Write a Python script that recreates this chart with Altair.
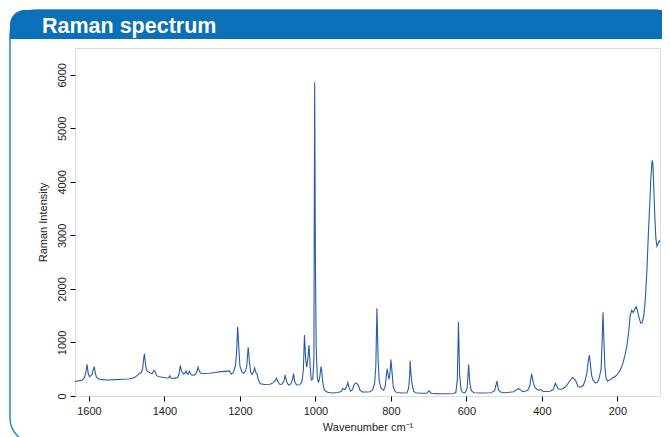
import altair as alt
import pandas as pd

# ---------------- data ----------------
wavenumber = [
    1637, 1628, 1618, 1612, 1608, 1605, 1602, 1599, 1596, 1592, 1589, 1586, 1583, 1580, 1575,
    1565, 1550, 1530, 1510, 1495, 1485, 1478, 1470, 1466, 1462, 1458, 1455, 1453, 1451, 1448,
    1444, 1438, 1432, 1428, 1425, 1421, 1414, 1405, 1395, 1389, 1386, 1383, 1375, 1365, 1361,
    1358, 1355, 1350, 1346, 1343, 1340, 1337, 1334, 1331, 1327, 1320, 1315, 1311, 1308, 1304,
    1295, 1280, 1265, 1250, 1235, 1228, 1223, 1218, 1212, 1209, 1206, 1203, 1200, 1195, 1190,
    1185, 1182, 1180, 1178, 1175, 1172, 1168, 1164, 1161, 1158, 1155, 1151, 1146, 1135, 1120,
    1114, 1110, 1106, 1103, 1099, 1094, 1088, 1083, 1080, 1076, 1071, 1065, 1061, 1058, 1055,
    1050, 1042, 1036, 1032, 1029, 1026, 1023, 1020, 1017, 1014, 1011, 1007, 1004, 1002, 1000,
    998, 995, 992, 989, 986, 985, 983, 980, 976, 968, 955, 940, 932, 927, 922,
    918, 914, 911, 907, 902, 898, 894, 890, 886, 882, 876, 865, 855, 848, 843,
    840, 837, 834, 831, 826, 819, 815, 812, 810, 807, 805, 802, 800, 797, 794,
    790, 785, 770, 757, 753, 750, 749, 747, 744, 740, 735, 720, 705, 699, 693,
    675, 650, 635, 628, 624, 621, 618, 614, 609, 603, 598, 594, 591, 587, 580,
    560, 535, 525, 519, 515, 508, 500, 485, 475, 468, 462, 456, 451, 444, 437,
    432, 427, 423, 419, 412, 406, 402, 398, 390, 378, 370, 366, 364, 361, 357,
    350, 343, 334, 326, 319, 314, 310, 304, 297, 290, 285, 281, 277, 274, 271,
    268, 264, 258, 253, 249, 243, 240, 238, 236, 233, 230, 226, 220, 212, 205,
    198, 192, 186, 180, 175, 170, 166, 162, 158, 154, 150, 147, 142, 138, 134,
    130, 126, 122, 118, 114, 111, 108, 106, 104, 101, 98, 95, 92, 89, 87,
]
intensity = [
    272, 282, 300, 340, 450, 590, 420, 365, 375, 400, 480, 550, 420, 350, 318,
    305, 300, 305, 312, 318, 330, 350, 400, 425, 430, 500, 700, 790, 640, 490,
    455, 430, 420, 480, 460, 380, 360, 350, 335, 340, 375, 335, 330, 345, 420,
    570, 470, 410, 425, 465, 420, 410, 460, 420, 390, 395, 430, 540, 470, 425,
    420, 425, 440, 455, 465, 470, 410, 430, 560, 800, 1295, 900, 560, 450, 420,
    470, 560, 750, 910, 650, 460, 400, 450, 525, 440, 420, 300, 230, 215, 220,
    240, 265, 290, 330, 260, 215, 225, 290, 390, 260, 205, 225, 300, 420, 270,
    205, 210, 260, 480, 1140, 700, 540, 700, 950, 560, 300, 320, 700, 5860, 2500,
    900, 350, 250, 330, 500, 550, 450, 220, 110, 70, 57, 65, 85, 140, 120,
    160, 250, 160, 90, 120, 200, 245, 230, 200, 110, 75, 75, 80, 120, 250,
    550, 1640, 700, 280, 140, 110, 180, 380, 510, 380, 310, 450, 680, 450, 180,
    100, 65, 55, 62, 150, 400, 660, 420, 230, 90, 60, 50, 50, 95, 52,
    45, 42, 48, 65, 300, 1380, 400, 110, 60, 60, 150, 590, 250, 100, 60,
    55, 60, 100, 280, 110, 70, 62, 70, 80, 110, 140, 110, 80, 90, 110,
    190, 415, 260, 165, 115, 110, 120, 90, 85, 90, 120, 200, 235, 190, 135,
    125, 140, 200, 280, 345, 320, 280, 175, 165, 200, 300, 420, 650, 765, 560,
    380, 290, 245, 250, 310, 500, 1100, 1565, 1100, 550, 330, 280, 300, 340, 370,
    420, 490, 590, 760, 920, 1200, 1500, 1600, 1560, 1620, 1667, 1600, 1450, 1360, 1370,
    1500, 1800, 2300, 3000, 3600, 4100, 4400, 4350, 4000, 3400, 2950, 2800, 2850, 2900, 2880,
]
x_ticks = [200, 400, 600, 800, 1000, 1200, 1400, 1600]
y_ticks = [0, 1000, 2000, 3000, 4000, 5000, 6000]
x_domain = [87, 1637]
y_domain = [0, 6500]
header_text = "Raman spectrum"
x_title = "Wavenumber cm\u207b\u00b9"
y_title = "Raman Intensity"

df = pd.DataFrame({"w": wavenumber, "i": intensity})
one = pd.DataFrame({"k": [0]})

W, H = 585, 348
BAND = "#0a70b8"
FRAME = "#2a86cc"
LINE = "#2a5ba8"
FONT = "Liberation Sans"

frame = alt.Chart(one).mark_rect(
    filled=False, color=FRAME, strokeWidth=1.5, cornerRadius=25
).encode(
    x=alt.value(-65), x2=alt.value(605), y=alt.value(-38), y2=alt.value(395)
)

band = alt.Chart(one).mark_rect(
    color=BAND, cornerRadiusTopLeft=25, cornerRadiusTopRight=25
).encode(
    x=alt.value(-65), x2=alt.value(605), y=alt.value(-38), y2=alt.value(-9)
)

header = alt.Chart(one).mark_text(
    align="left", baseline="alphabetic", font=FONT, fontWeight="bold",
    fontSize=21.5, color="white"
).encode(
    x=alt.value(-33), y=alt.value(-15), text=alt.value(header_text)
)

spectrum = alt.Chart(df).mark_line(color=LINE, strokeWidth=1.1).encode(
    x=alt.X(
        "w:Q",
        scale=alt.Scale(domain=x_domain, reverse=True, nice=False, zero=False),
        axis=alt.Axis(
            values=x_ticks, format="d", title=x_title, domain=False, grid=False,
            tickSize=5, tickColor="black", labelPadding=4, titlePadding=5,
            labelFont=FONT, labelFontSize=11, labelColor="#222",
            titleFont=FONT, titleFontSize=11, titleFontWeight="normal",
            titleColor="#222",
        ),
    ),
    y=alt.Y(
        "i:Q",
        scale=alt.Scale(domain=y_domain, nice=False),
        axis=alt.Axis(
            values=y_ticks, format="d", title=y_title, domain=False, grid=False,
            tickSize=5, tickColor="black", labelAngle=270, labelAlign="center",
            labelBaseline="bottom", labelPadding=3, titlePadding=8,
            labelFont=FONT, labelFontSize=11, labelColor="#222",
            titleFont=FONT, titleFontSize=11, titleFontWeight="normal",
            titleColor="#222",
        ),
    ),
)

chart = alt.layer(frame, band, header, spectrum).properties(
    width=W, height=H,
    autosize="none",
    padding={"left": 67, "top": 40, "right": 2, "bottom": 41},
).configure_view(
    stroke="black", strokeWidth=1
).configure(background="white")

chart.save("out.html", embed_options={"renderer": "svg", "actions": False})
